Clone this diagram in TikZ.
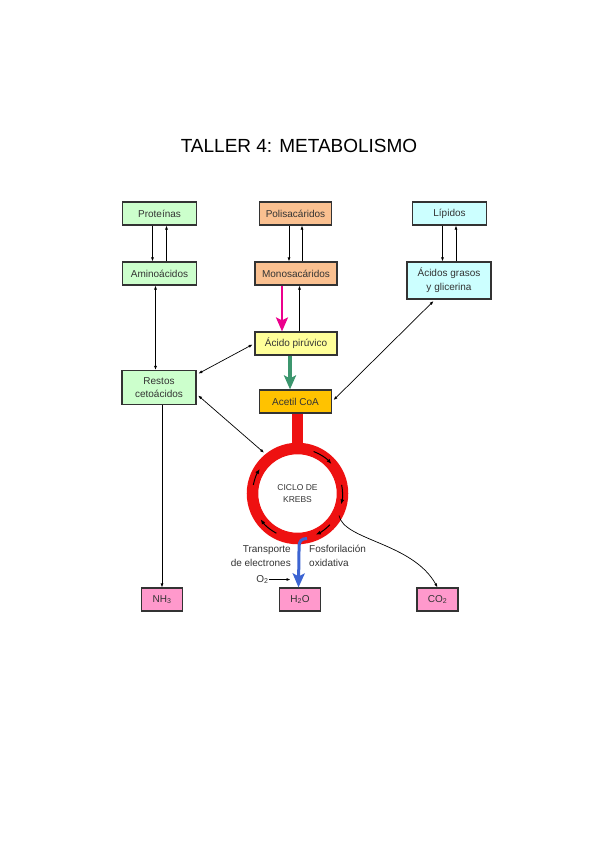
\documentclass[tikz,border=0pt]{standalone}
\usepackage{fontspec}
\setmainfont{Liberation Sans}
\usetikzlibrary{arrows.meta}
\definecolor{verde}{RGB}{204,255,204}
\definecolor{salmon}{RGB}{250,192,144}
\definecolor{celeste}{RGB}{204,255,255}
\definecolor{amarillo}{RGB}{255,255,153}
\definecolor{naranja}{RGB}{255,194,0}
\definecolor{rosa}{RGB}{255,153,204}
\definecolor{rojo}{RGB}{238,17,17}
\definecolor{verdeosc}{RGB}{60,150,110}
\definecolor{azul}{RGB}{60,100,210}
\definecolor{texto}{RGB}{51,51,51}
\begin{document}
\begin{tikzpicture}[x=1pt,y=-1pt,
    caja/.style={draw=texto, line width=1.2pt, text=texto, font=\fontsize{10}{12}\selectfont, align=center, inner sep=0pt},
    etiqueta/.style={text=texto, font=\fontsize{10}{14}\selectfont, inner sep=0pt},
    flecha/.style={-{Latex[length=4pt,width=3pt]}, line width=0.7pt},
    doble/.style={{Latex[length=4pt,width=3pt]}-{Latex[length=4pt,width=3pt]}, line width=0.7pt, shorten <=2pt, shorten >=2pt},
    gruesa/.style={-{Stealth[length=14pt,width=12pt,inset=3pt]}, line width=3.5pt}]
    \useasboundingbox (0,0) rectangle (599,848);
    \node[font=\fontsize{19}{22}\selectfont] (titulo) at (299,146) {TALLER 4: METABOLISMO};
    \node[caja, fill=verde, minimum width=74pt, minimum height=23pt] (prot) at (159.5,213.5) {Proteínas};
    \node[caja, fill=salmon, minimum width=72pt, minimum height=23pt] (polis) at (295.5,213.5) {Polisacáridos};
    \node[caja, fill=celeste, minimum width=74pt, minimum height=23pt] (lip) at (449.5,213.5) {Lípidos};
    \node[caja, fill=verde, minimum width=74pt, minimum height=23pt] (amino) at (159.5,273.5) {Aminoácidos};
    \node[caja, fill=salmon, minimum width=82pt, minimum height=23pt] (mono) at (296,273.5) {Monosacáridos};
    \node[caja, fill=celeste, minimum width=84pt, minimum height=37pt, font=\fontsize{10}{14}\selectfont] (acidos) at (449,280.5) {Ácidos grasos\\y glicerina};
    \node[caja, fill=amarillo, minimum width=82pt, minimum height=23pt] (piru) at (296,343.5) {Ácido pirúvico};
    \node[caja, fill=verde, minimum width=74pt, minimum height=34pt, font=\fontsize{10}{12.7}\selectfont] (restos) at (159,387.5) {Restos\\cetoácidos};
    \node[caja, fill=naranja, minimum width=72pt, minimum height=23pt] (acetil) at (295.5,401.5) {Acetil CoA};
    \node[circle, draw=rojo, line width=11.5pt, minimum size=90pt, align=center, text=texto, font=\fontsize{8.5}{12.7}\selectfont] (krebs) at (297.5,493.5) {CICLO DE\\KREBS};
    \node[caja, fill=rosa, minimum width=41pt, minimum height=23pt] (nh3) at (162,599.5) {NH\textsubscript{3}};
    \node[caja, fill=rosa, minimum width=41pt, minimum height=23pt] (h2o) at (300,599.5) {H\textsubscript{2}O};
    \node[caja, fill=rosa, minimum width=41pt, minimum height=23pt] (co2) at (437.5,599.5) {CO\textsubscript{2}};
    \node[etiqueta, anchor=east, align=right] (transp) at (291,556) {Transporte\\de electrones};
    \node[etiqueta, anchor=west, align=left] (fosfo) at (309,556) {Fosforilación\\oxidativa};
    \node[etiqueta] (o2) at (262.5,579.5) {O\textsubscript{2}};
    \coordinate (o2fin) at (290.5,579.5);
    \coordinate (cte) at ([shift={(78:46)}]krebs.center);
    \coordinate (cco) at ([shift={(28:47)}]krebs.center);
    \draw[flecha] ([xshift=-7pt]prot.south) -- ([xshift=-7pt]amino.north);
    \draw[flecha] ([xshift=7pt]amino.north) -- ([xshift=7pt]prot.south);
    \draw[flecha] ([xshift=-6.5pt]polis.south) -- ([xshift=-6.5pt]polis.south |- mono.north);
    \draw[flecha] ([xshift=6.5pt]polis.south |- mono.north) -- ([xshift=6.5pt]polis.south);
    \draw[flecha] ([xshift=-7pt]lip.south) -- ([xshift=-7pt]lip.south |- acidos.north);
    \draw[flecha] ([xshift=6.5pt]lip.south |- acidos.north) -- ([xshift=6.5pt]lip.south);
    \draw[doble, shorten <=0pt, shorten >=0pt] ([xshift=-4pt]amino.south) -- ([xshift=-4pt]amino.south |- restos.north);
    \draw[flecha] (restos.south -| nh3) -- (nh3.north);
    \draw[gruesa, magenta, line width=2.5pt] ([xshift=-14pt]mono.south) -- ([xshift=-14pt]mono.south |- piru.north);
    \draw[flecha] ([xshift=3.5pt]piru.north) -- ([xshift=3.5pt]piru.north |- mono.south);
    \draw[gruesa, verdeosc] ([xshift=-6pt]piru.south) -- ([xshift=-6pt]piru.south |- acetil.north);
    \draw[doble] (restos.19) -- (piru.west);
    \draw[doble] (restos.-10) -- (krebs.129);
    \draw[doble] ([xshift=-14pt]acidos.south) -- (acetil.east);
    \draw[rojo, line width=11pt] (krebs.north |- acetil.south) -- (krebs.north);
    \foreach \a/\b in {-69/-41, -11/14, 44/66, 118/145, -169/-147}
        \draw[-{Latex[length=5pt,width=4pt]}, line width=1pt] ([shift={(\a:45)}]krebs.center) arc[start angle=\a, end angle=\b, radius=45];
    \draw[gruesa, azul, line width=3pt] (cte) .. controls +(-6,0) and +(0,-5) .. ++(-8,8) -- ([xshift=-1.5pt]h2o.north);
    \draw[flecha] (o2) -- (o2fin);
    \draw[flecha] (cco) .. controls +(5,25) and +(-25,-45) .. (co2.north);
\end{tikzpicture}
\end{document}
